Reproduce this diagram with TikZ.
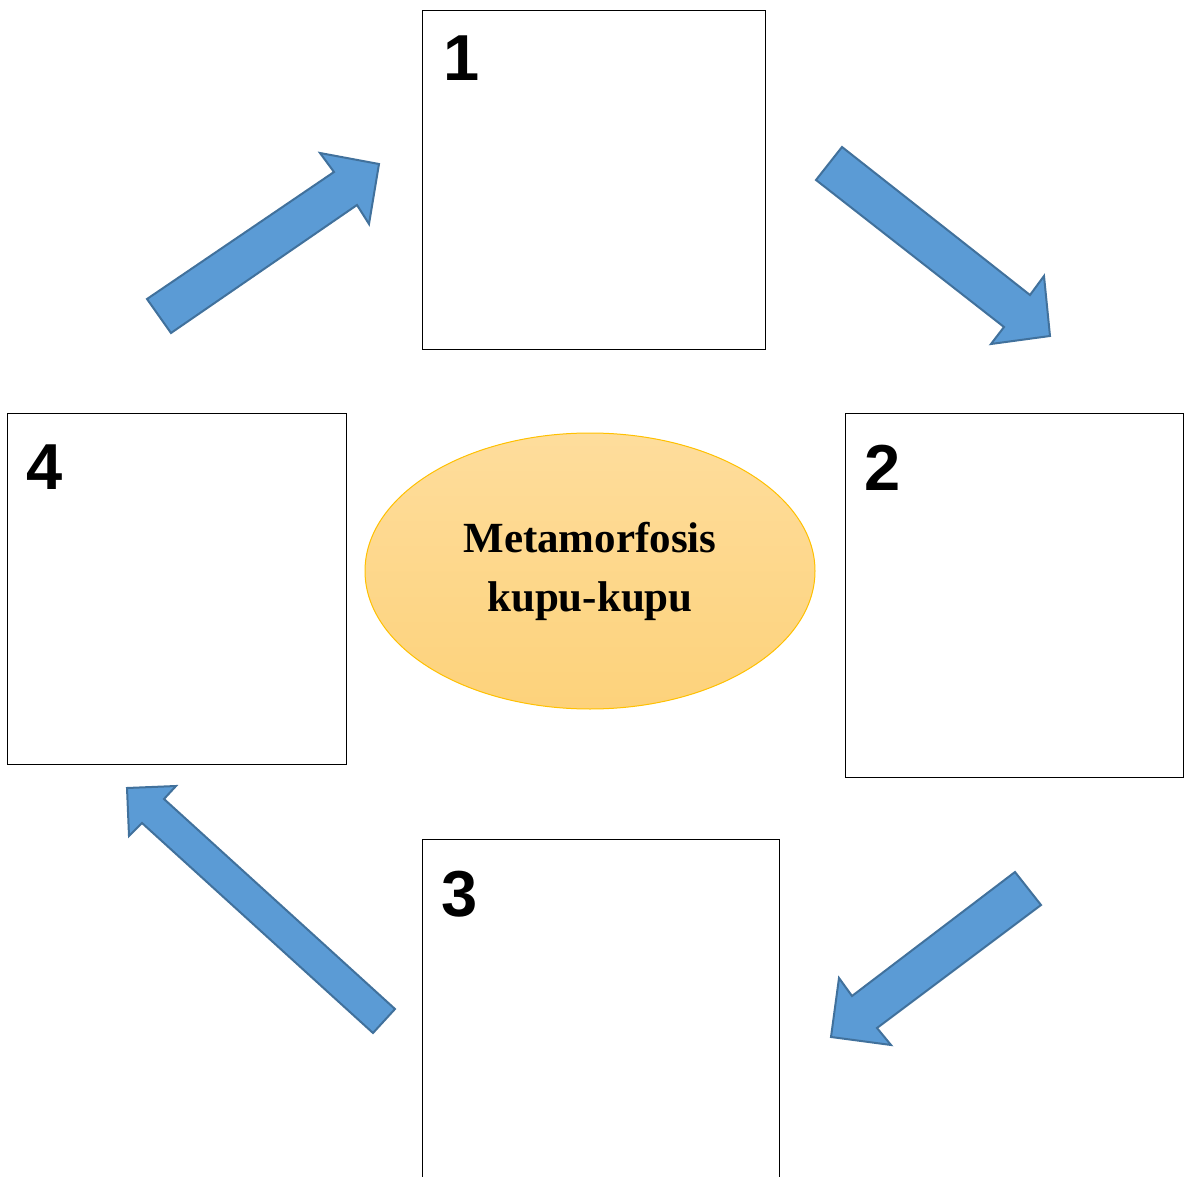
\documentclass[tikz,border=0pt]{standalone}
\usepackage{fontspec}
\setmainfont{Liberation Serif}
\newfontfamily\arialf{Liberation Sans}
\usetikzlibrary{shapes.geometric}
\definecolor{arrfill}{HTML}{5B9BD5}
\definecolor{arrline}{HTML}{41719C}
\definecolor{elltop}{HTML}{FEDD9C}
\definecolor{ellbot}{HTML}{FDD27B}
\definecolor{elldraw}{HTML}{FFC000}
\tikzset{
  stagebox/.style={draw=black, line width=1pt, fill=white, inner sep=0pt, anchor=north west},
  numlabel/.style={inner sep=0pt, anchor=north west, font=\arialf\bfseries\fontsize{65}{70}\selectfont},
  bigarrow/.style={fill=arrfill, draw=arrline, line width=2pt, line join=miter},
}
\begin{document}
\begin{tikzpicture}[x=1pt,y=-1pt]
\useasboundingbox (0,0) rectangle (1184,1177);
% boxes
\node[stagebox, minimum width=343pt, minimum height=339pt] (b1) at (422,10) {};
\node[stagebox, minimum width=338pt, minimum height=364pt] (b2) at (845,413) {};
\node[stagebox, minimum width=357pt, minimum height=345pt] (b3) at (422,839) {};
\node[stagebox, minimum width=339pt, minimum height=351pt] (b4) at (7,413) {};
% labels
\node[numlabel] (l1) at (443,36) {1};
\node[numlabel] (l2) at (864,445) {2};
\node[numlabel] (l3) at (441,871) {3};
\node[numlabel] (l4) at (26,445) {4};
% ellipse
\node[ellipse, minimum width=450pt, minimum height=276pt, top color=elltop, bottom color=ellbot, draw=elldraw, line width=1pt, align=center, font=\bfseries\fontsize{43}{59}\selectfont] (c) at (590,571) {Metamorfosis\\kupu-kupu};
% arrows
\draw[bigarrow] (147,299) -- (334,172) -- (320,153) -- (379,164) -- (369,224) -- (357,205) -- (171,333) -- cycle;
\draw[bigarrow] (842,147) -- (1030,295) -- (1044,276) -- (1050,336) -- (991,344) -- (1004,327) -- (816,180) -- cycle;
\draw[bigarrow] (1015,872) -- (852,996) -- (839,978) -- (831,1037) -- (891,1045) -- (877,1028) -- (1041,905) -- cycle;
\draw[bigarrow] (395,1009) -- (164,799) -- (176,786) -- (127,788) -- (129,836) -- (142,823) -- (373,1033) -- cycle;
\end{tikzpicture}
\end{document}
